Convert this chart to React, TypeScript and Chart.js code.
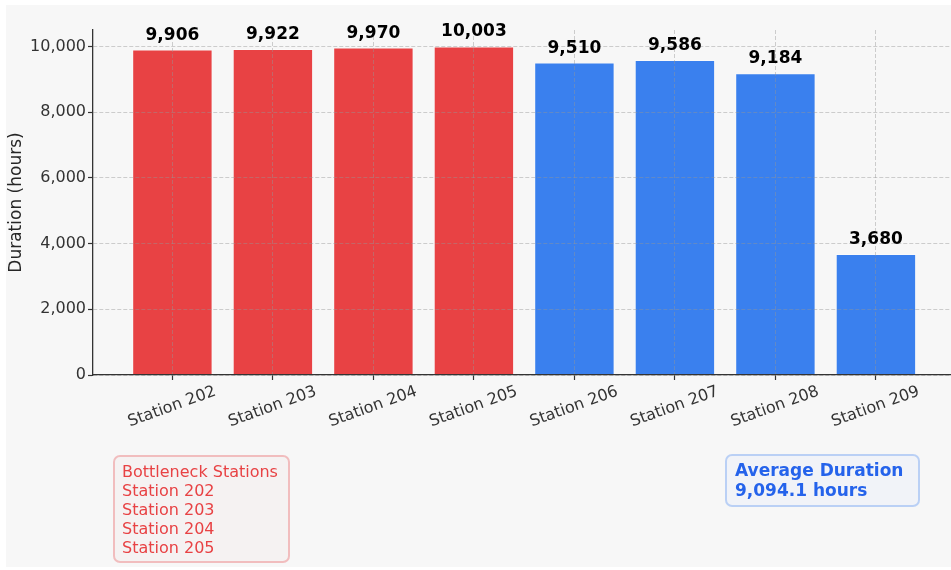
import React, { useEffect, useRef } from "react";
import { Chart, registerables } from "chart.js";

Chart.register(...registerables);

const categories = ["Station 202", "Station 203", "Station 204", "Station 205", "Station 206", "Station 207", "Station 208", "Station 209"];
const durations = [9906, 9922, 9970, 10003, 9510, 9586, 9184, 3680];
const isBottleneck = [true, true, true, true, false, false, false, false];
const yTicks = [0, 2000, 4000, 6000, 8000, 10000];
const bottleneckLines = ["Bottleneck Stations", "Station 202", "Station 203", "Station 204", "Station 205"];
const averageLines = ["Average Duration", "9,094.1 hours"];

const RED = "#e84244";
const BLUE = "#3a80ee";
const FONT = "'DejaVu Sans', sans-serif";

export default function App() {
  const ref = useRef<HTMLCanvasElement | null>(null);

  useEffect(() => {
    const canvas = ref.current;
    if (!canvas) return;

    const bgPlugin = {
      id: "bg",
      beforeDraw(chart: any) {
        const ctx = chart.ctx;
        ctx.save();
        ctx.fillStyle = "#ffffff";
        ctx.fillRect(0, 0, chart.width, chart.height);
        ctx.fillStyle = "#f7f7f7";
        ctx.fillRect(6, 5, chart.width - 6, chart.height - 8);
        ctx.restore();
      },
    };

    const labelPlugin = {
      id: "valueLabels",
      afterDraw(chart: any) {
        const ctx = chart.ctx;
        const meta = chart.getDatasetMeta(0);
        ctx.save();
        ctx.font = `bold 17px ${FONT}`;
        ctx.fillStyle = "#000000";
        ctx.textAlign = "center";
        ctx.textBaseline = "alphabetic";
        meta.data.forEach((el: any, i: number) => {
          ctx.fillText(durations[i].toLocaleString("en-US"), el.x, el.y - 10);
        });
        ctx.restore();
      },
    };

    const gridOpts = {
      color: "rgba(150,150,150,0.55)",
      lineWidth: 0.8,
      tickColor: "#333333",
      tickLength: 5,
      tickWidth: 1.2,
      tickBorderDash: [],
      offset: false,
      z: 1,
    };

    const chart = new Chart(canvas, {
      type: "bar",
      data: {
        datasets: [
          {
            data: durations.map((v, i) => ({ x: i, y: v })),
            backgroundColor: isBottleneck.map((b) => (b ? RED : BLUE)),
            borderColor: "rgba(255,255,255,0.35)",
            borderWidth: 1,
            barPercentage: 0.8,
            categoryPercentage: 1,
          },
        ],
      },
      options: {
        animation: false,
        responsive: false,
        devicePixelRatio: 1,
        layout: { padding: { top: 30, left: 0, right: 0, bottom: 0 } },
        plugins: { legend: { display: false }, tooltip: { enabled: false } },
        scales: {
          x: {
            type: "linear",
            offset: false,
            min: -0.79,
            max: 7.747,
            afterBuildTicks: (scale: any) => {
              scale.ticks = categories.map((_, i) => ({ value: i }));
            },
            afterFit: (scale: any) => {
              scale.height = 195;
              scale.paddingLeft = 0;
              scale.paddingRight = 0;
            },
            ticks: {
              callback: (v: any) => categories[Number(v)] ?? "",
              minRotation: 20,
              maxRotation: 20,
              autoSkip: false,
              labelOffset: 43,
              padding: 2,
              color: "#333333",
              font: { family: FONT, size: 16 },
              z: 2,
            },
            grid: gridOpts,
            border: { display: true, color: "#333333", width: 1.3, dash: [4, 2], z: 2 },
          } as any,
          y: {
            min: 0,
            max: 10503,
            afterBuildTicks: (scale: any) => {
              scale.ticks = yTicks.map((v) => ({ value: v }));
            },
            afterFit: (scale: any) => {
              scale.width = 93;
              scale.paddingTop = 0;
              scale.paddingBottom = 0;
            },
            ticks: {
              callback: (v: any) => Number(v).toLocaleString("en-US"),
              padding: 2,
              color: "#333333",
              font: { family: FONT, size: 16 },
              z: 2,
            },
            grid: gridOpts,
            border: { display: true, color: "#333333", width: 1.3, dash: [4, 2], z: 2 },
            title: {
              display: true,
              text: "Duration (hours)",
              color: "#262626",
              font: { family: FONT, size: 17 },
              padding: { top: 6, bottom: 0 },
            },
          } as any,
        },
      } as any,
      plugins: [bgPlugin, labelPlugin],
    });

    return () => chart.destroy();
  }, []);

  return (
    <div style={{ position: "fixed", left: 0, top: 0, width: 951, height: 570 }}>
      <canvas ref={ref} width={951} height={570} style={{ width: 951, height: 570, display: "block" }} />
      <div
        style={{
          position: "absolute",
          left: 113,
          top: 455,
          width: 159,
          padding: "5px 7px 4px 7px",
          border: "2px solid rgba(232,66,68,0.3)",
          borderRadius: 7,
          background: "#f5f2f2",
          color: RED,
          fontFamily: FONT,
          fontSize: 16,
          lineHeight: "19px",
          whiteSpace: "nowrap",
        }}
      >
        {bottleneckLines.map((t) => (
          <div key={t}>{t}</div>
        ))}
      </div>
      <div
        style={{
          position: "absolute",
          left: 725,
          top: 454,
          width: 176,
          padding: "5px 7px 5px 8px",
          border: "2px solid rgba(58,128,238,0.3)",
          borderRadius: 7,
          background: "#f1f3f8",
          color: "#2563eb",
          fontFamily: FONT,
          fontWeight: "bold",
          fontSize: 17,
          lineHeight: "19.5px",
          whiteSpace: "nowrap",
        }}
      >
        {averageLines.map((t) => (
          <div key={t}>{t}</div>
        ))}
      </div>
    </div>
  );
}
